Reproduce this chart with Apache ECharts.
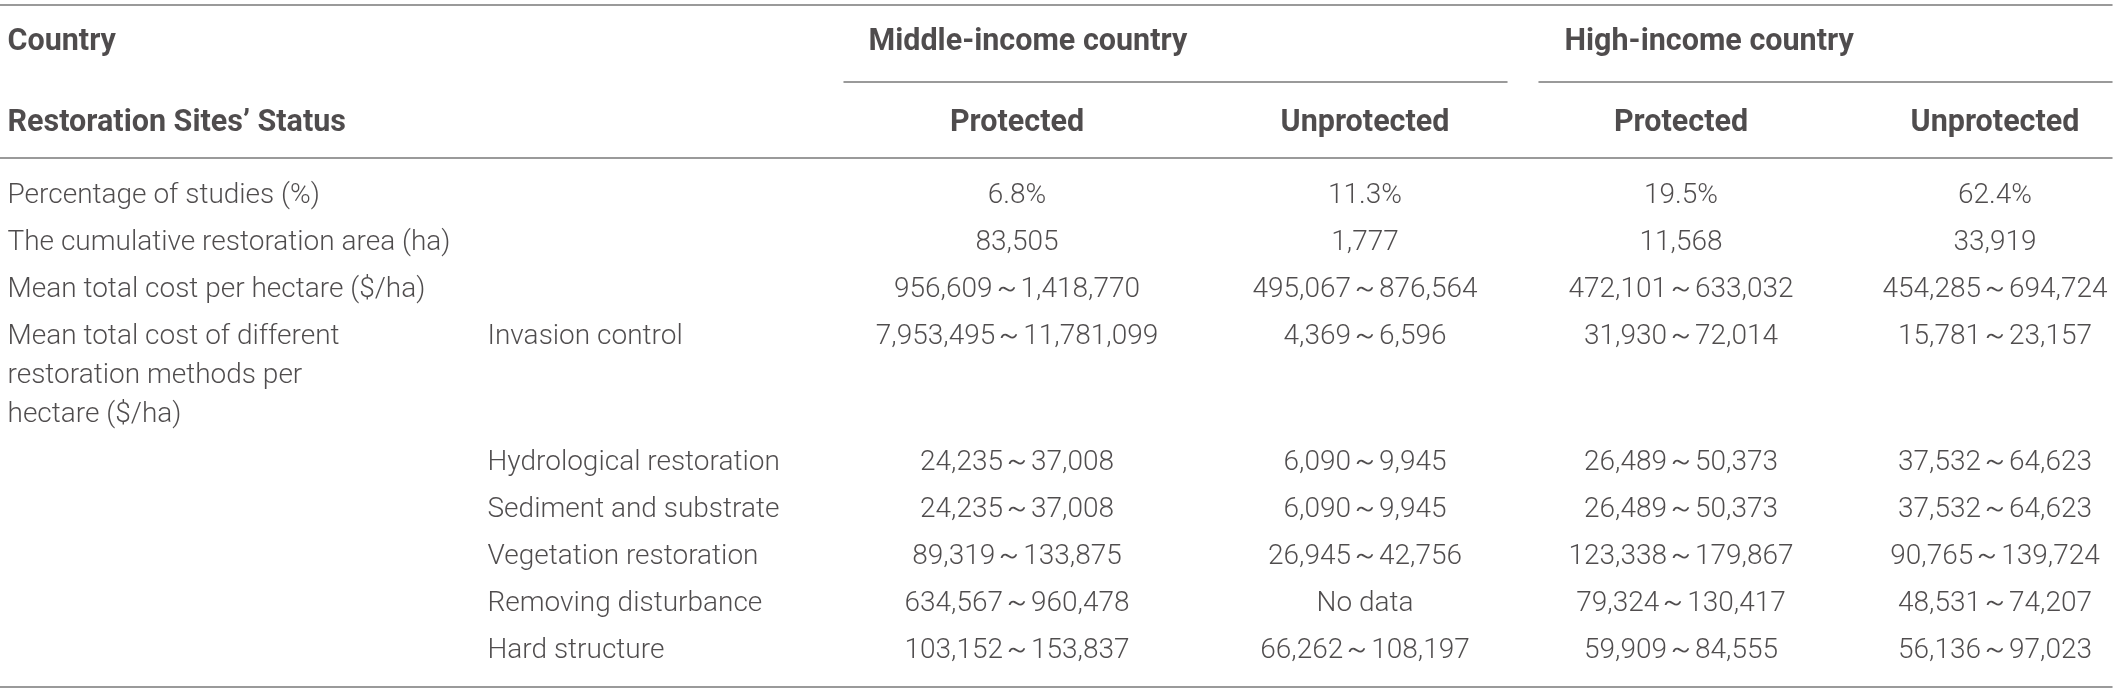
<!DOCTYPE html>
<html>
<head>
<meta charset="utf-8">
<script src="https://cdn.jsdelivr.net/npm/echarts@6/dist/echarts.min.js"></script>
</head>
<body style="margin:0;background:#fff">
<div id="container" style="width:2118px;height:693px;"></div>
<script type="text/javascript">
// table content
var headerLabels = ['Country', 'Restoration Sites\u2019 Status'];
var groups = ['Middle-income country', 'High-income country'];
var statuses = ['Protected', 'Unprotected'];
var rowLabels = [
    'Percentage of studies (%)',
    'The cumulative restoration area (ha)',
    'Mean total cost per hectare ($/ha)',
    'Mean total cost of different\nrestoration methods per\nhectare ($/ha)'
];
var methods = ['Invasion control', 'Hydrological restoration', 'Sediment and substrate',
    'Vegetation restoration', 'Removing disturbance', 'Hard structure'];
var midProtected = ['6.8%', '83,505', '956,609\uff5e1,418,770', '7,953,495\uff5e11,781,099',
    '24,235\uff5e37,008', '24,235\uff5e37,008', '89,319\uff5e133,875', '634,567\uff5e960,478', '103,152\uff5e153,837'];
var midUnprotected = ['11.3%', '1,777', '495,067\uff5e876,564', '4,369\uff5e6,596',
    '6,090\uff5e9,945', '6,090\uff5e9,945', '26,945\uff5e42,756', 'No data', '66,262\uff5e108,197'];
var highProtected = ['19.5%', '11,568', '472,101\uff5e633,032', '31,930\uff5e72,014',
    '26,489\uff5e50,373', '26,489\uff5e50,373', '123,338\uff5e179,867', '79,324\uff5e130,417', '59,909\uff5e84,555'];
var highUnprotected = ['62.4%', '33,919', '454,285\uff5e694,724', '15,781\uff5e23,157',
    '37,532\uff5e64,623', '37,532\uff5e64,623', '90,765\uff5e139,724', '48,531\uff5e74,207', '56,136\uff5e97,023'];

// layout: row bands and column groups (each pair is one grid)
var bands = [
    {top: 2, height: 162, rows: 2},
    {top: 172.5, height: 188, rows: 4},
    {top: 439.5, height: 235, rows: 5}
];
var colGroups = [
    {left: 7, width: 480, align: 'left'},
    {left: 1017, width: 348, align: 'center'},
    {left: 1681, width: 314, align: 'center'}
];
var groupLabelOffset = [-149, -117];
var ruleColor = '#7a7a7a';
var textColor = '#231f20';
var bodyFont = {fontFamily: 'Roboto', fontWeight: 300, fontSize: 28, color: textColor, lineHeight: 39};
var headFont = {fontFamily: 'Roboto', fontWeight: 'bold', fontSize: 30.5, color: textColor};

function cell(col, row, text, label) {
    var d = {value: [col, row], name: text};
    if (label) d.label = label;
    return d;
}

// cells per band / group
var cells = [[[], [], []], [[], [], []], [[], [], []]];
cells[0][0].push(cell(0, 0, headerLabels[0]), cell(0, 1, headerLabels[1]));
groups.forEach(function (name, g) {
    cells[0][g + 1].push(cell(0, 0, name, {
        position: 'right', distance: 0, align: 'left', offset: [groupLabelOffset[g], 0]
    }));
    statuses.forEach(function (s, c) { cells[0][g + 1].push(cell(c, 1, s)); });
});
rowLabels.forEach(function (t, r) {
    cells[1][0].push(cell(0, r, t, r === 3 ? {verticalAlign: 'top', offset: [0, -19.5]} : null));
});
cells[1][0].push(cell(1, 3, methods[0]));
methods.slice(1).forEach(function (t, r) { cells[2][0].push(cell(1, r, t)); });
[[midProtected, midUnprotected], [highProtected, highUnprotected]].forEach(function (pair, g) {
    pair.forEach(function (vals, c) {
        vals.forEach(function (t, i) {
            if (i < 4) cells[1][g + 1].push(cell(c, i, t));
            else cells[2][g + 1].push(cell(c, i - 4, t));
        });
    });
});

var dom = document.getElementById('container');
var myChart = echarts.init(dom);
var option = {
    animation: false,
    backgroundColor: '#fff',
    grid: [], xAxis: [], yAxis: [], series: []
};

bands.forEach(function (band, b) {
    colGroups.forEach(function (grp, g) {
        var gi = option.grid.length;
        option.grid.push({left: grp.left, width: grp.width, top: band.top, height: band.height});
        option.xAxis.push({type: 'category', gridIndex: gi, data: ['c0', 'c1'], boundaryGap: false, show: false});
        var rows = [];
        for (var i = 0; i < band.rows; i++) rows.push('r' + i);
        option.yAxis.push({type: 'category', gridIndex: gi, data: rows, inverse: true, show: false});
        var font = b === 0 ? headFont : bodyFont;
        option.series.push({
            type: 'scatter',
            xAxisIndex: gi, yAxisIndex: gi,
            symbolSize: 1,
            silent: true,
            itemStyle: {color: 'rgba(0,0,0,0)'},
            label: Object.assign({
                show: true,
                formatter: '{b}',
                position: grp.align === 'left' ? 'right' : 'inside',
                distance: 0,
                align: grp.align
            }, font),
            data: cells[b][g]
        });
    });
});

// horizontal rules drawn as axis lines of empty grids
var rules = [
    {grid: {left: 0, right: 6, top: 5, height: 153}, pos: ['top', 'bottom']},
    {grid: {left: 0, right: 6, top: 158, bottom: 6}, pos: ['bottom']},
    {grid: {left: 844, width: 663, top: 5, height: 77}, pos: ['bottom']},
    {grid: {left: 1539, right: 6, top: 5, height: 77}, pos: ['bottom']}
];
rules.forEach(function (rule) {
    var gi = option.grid.length;
    option.grid.push(rule.grid);
    rule.pos.forEach(function (p) {
        option.xAxis.push({
            type: 'category', gridIndex: gi, data: [''], position: p,
            axisLine: {show: true, onZero: false, lineStyle: {color: ruleColor, width: 1.5}},
            axisTick: {show: false}, axisLabel: {show: false}, splitLine: {show: false}
        });
    });
    option.yAxis.push({type: 'category', gridIndex: gi, data: [''], show: false});
});

myChart.setOption(option, true);
</script>
</body>
</html>
